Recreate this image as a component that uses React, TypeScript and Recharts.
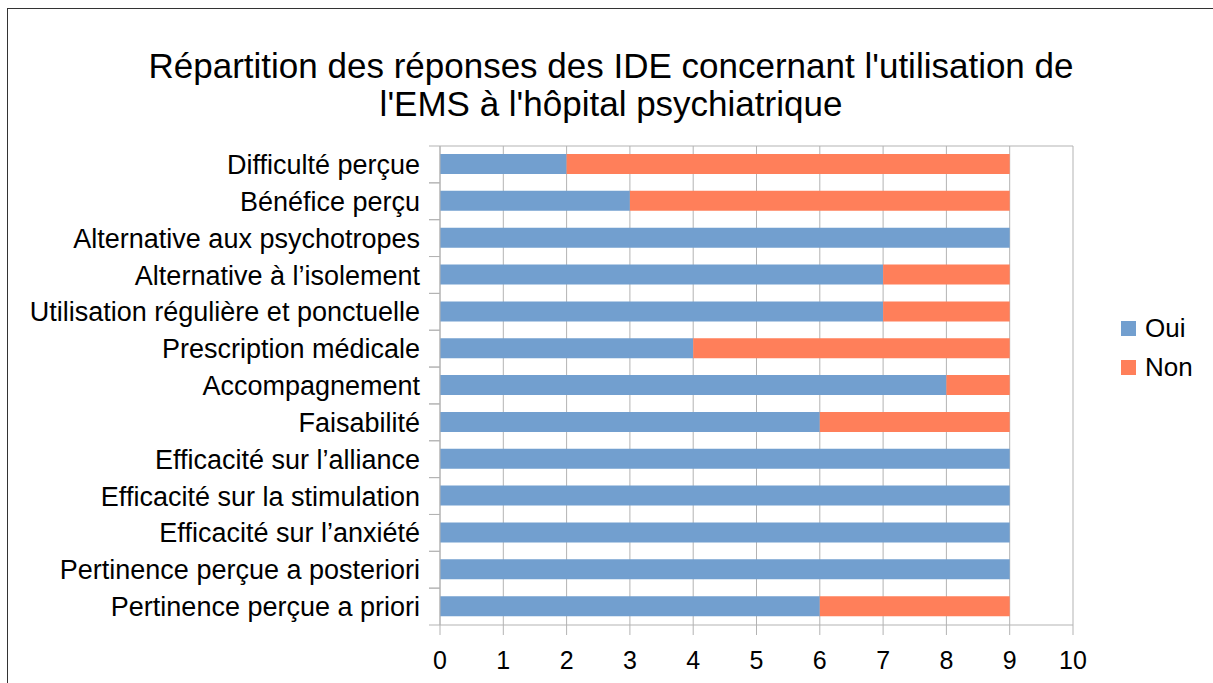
import React from 'react';
import { BarChart, Bar, XAxis, YAxis, CartesianGrid, Legend } from 'recharts';

const categories = [
  "Difficulté perçue",
  "Bénéfice perçu",
  "Alternative aux psychotropes",
  "Alternative à l’isolement",
  "Utilisation régulière et ponctuelle",
  "Prescription médicale",
  "Accompagnement",
  "Faisabilité",
  "Efficacité sur l’alliance",
  "Efficacité sur la stimulation",
  "Efficacité sur l’anxiété",
  "Pertinence perçue a posteriori",
  "Pertinence perçue a priori",
];
const oui = [2, 3, 9, 7, 7, 4, 8, 6, 9, 9, 9, 9, 6];
const non = [7, 6, 0, 2, 2, 5, 1, 3, 0, 0, 0, 0, 3];
const seriesNames = ["Oui", "Non"];
const xTicks = [0, 1, 2, 3, 4, 5, 6, 7, 8, 9, 10];
const titleLines = [
  "Répartition des réponses des IDE concernant l'utilisation de",
  "l'EMS à l'hôpital psychiatrique",
];

const data = categories.map((name, i) => ({ name, oui: oui[i], non: non[i] }));

const FONT = '"Liberation Sans", Arial, sans-serif';
const GRID = '#b3b3b3';
const TICK_MARGIN = 20;
const TICK_LEN = 11;

const LegendContent = (props: any) => {
  const payload = [...(props.payload || [])].sort(
    (a: any, b: any) => seriesNames.indexOf(a.value) - seriesNames.indexOf(b.value)
  );
  return (
    <div style={{ fontFamily: FONT, fontSize: 26, color: '#000' }}>
      {payload.map((p: any) => (
        <div key={p.value} style={{ display: 'flex', alignItems: 'center', height: 39 }}>
          <span style={{ display: 'inline-block', width: 15, height: 15, background: p.color, marginRight: 9 }} />
          <span>{p.value}</span>
        </div>
      ))}
    </div>
  );
};

const CategoryTick = (props: any) => {
  const { x, y, payload } = props;
  const half = payload && typeof payload.offset === 'number' ? payload.offset : 0;
  const axisX = x + TICK_MARGIN;
  return (
    <g>
      <line x1={axisX - TICK_LEN} x2={axisX} y1={y - half} y2={y - half} stroke={GRID} />
      <line x1={axisX - TICK_LEN} x2={axisX} y1={y + half} y2={y + half} stroke={GRID} />
      <text x={x} y={y} dy="0.355em" textAnchor="end" fill="#000" fontSize={27} fontFamily={FONT}>
        {payload.value}
      </text>
    </g>
  );
};

export default function App() {
  return (
    <div style={{ position: 'absolute', left: 0, top: 0, width: 1213, height: 683, background: '#fff', fontFamily: FONT, overflow: 'hidden' }}>
      <div style={{ position: 'absolute', left: 7, top: 8, width: 1206, height: 675, borderTop: '1px solid #333', borderLeft: '1px solid #333', boxSizing: 'border-box' }} />
      <div style={{ position: 'absolute', left: 0, top: 47, width: 1222, textAlign: 'center', fontSize: 35, lineHeight: '38px', color: '#000' }}>
        {titleLines.map((t) => (
          <div key={t}>{t}</div>
        ))}
      </div>
      <div style={{ position: 'absolute', left: 0, top: 0 }}>
        <BarChart
          width={1213}
          height={683}
          data={data}
          layout="vertical"
          margin={{ top: 146, right: 140, bottom: 18, left: 0 }}
        >
          <CartesianGrid
            vertical={true}
            horizontal={true}
            stroke={GRID}
            horizontalCoordinatesGenerator={(p: any) => [p.offset.top]}
          />
          <YAxis
            type="category"
            dataKey="name"
            width={440}
            interval={0}
            tickLine={false}
            axisLine={{ stroke: GRID }}
            tickSize={0}
            tickMargin={TICK_MARGIN}
            tick={<CategoryTick />}
          />
          <XAxis
            type="number"
            domain={[0, 10]}
            ticks={xTicks}
            interval={0}
            height={40}
            tickSize={10}
            tickMargin={16}
            axisLine={{ stroke: GRID }}
            tickLine={{ stroke: GRID }}
            tick={{ fill: '#000', fontSize: 25 }}
          />
          <Legend
            layout="vertical"
            align="center"
            verticalAlign="middle"
            wrapperStyle={{ left: 1121, top: 309, width: 'auto' }}
            content={LegendContent}
          />
          <Bar dataKey="oui" name={seriesNames[0]} stackId="a" fill="#729fcf" barSize={20} isAnimationActive={false} />
          <Bar dataKey="non" name={seriesNames[1]} stackId="a" fill="#ff7f5a" barSize={20} isAnimationActive={false} />
        </BarChart>
      </div>
    </div>
  );
}
